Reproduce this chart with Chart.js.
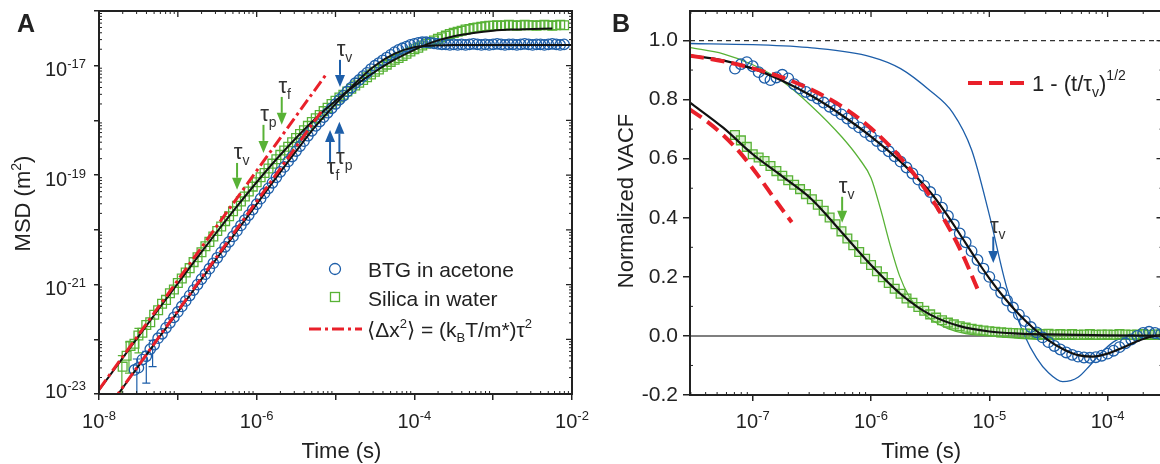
<!DOCTYPE html>
<html>
<head>
<meta charset="utf-8">
<script src="https://cdn.jsdelivr.net/npm/chart.js"></script>
<style>
  html, body { margin: 0; padding: 0; background: #fff; overflow: hidden; width: 1160px; height: 464px; }
  canvas { position: absolute; top: 0; }
</style>
</head>
<body>
<canvas id="msdChart" width="590" height="464" style="left:0"></canvas>
<canvas id="vacfChart" width="580" height="464" style="left:590px"></canvas>
<script>
const FONT = "'Liberation Sans', Arial, 'DejaVu Sans', sans-serif";
const BLUE = '#1d5ea9';
const GREEN = '#58b236';
const RED = '#e9202a';
const INK = '#222';

// ---------- Panel A: MSD (all values are log10: time in s, MSD in m^2) ----------
const timeDecadesA = [-8, -7, -6, -5, -4, -3, -2];
const timeLabelsA = [-8, -6, -4, -2];
const msdDecades = [-23, -22, -21, -20, -19, -18, -17, -16];
const msdLabels = [-23, -21, -19, -17];

const logTimeA = [
  -7.70, -7.65, -7.60, -7.55, -7.50, -7.45, -7.40, -7.35, -7.30, -7.25,
  -7.20, -7.15, -7.10, -7.05, -7.00, -6.95, -6.90, -6.85, -6.80, -6.75,
  -6.70, -6.65, -6.60, -6.55, -6.50, -6.45, -6.40, -6.35, -6.30, -6.25,
  -6.20, -6.15, -6.10, -6.05, -6.00, -5.95, -5.90, -5.85, -5.80, -5.75,
  -5.70, -5.65, -5.60, -5.55, -5.50, -5.45, -5.40, -5.35, -5.30, -5.25,
  -5.20, -5.15, -5.10, -5.05, -5.00, -4.95, -4.90, -4.85, -4.80, -4.75,
  -4.70, -4.65, -4.60, -4.55, -4.50, -4.45, -4.40, -4.35, -4.30, -4.25,
  -4.20, -4.15, -4.10, -4.05, -4.00, -3.95, -3.90, -3.85, -3.80, -3.75,
  -3.70, -3.65, -3.60, -3.55, -3.50, -3.45, -3.40, -3.35, -3.30, -3.25,
  -3.20, -3.15, -3.10, -3.05, -3.00, -2.95, -2.90, -2.85, -2.80, -2.75,
  -2.70, -2.65, -2.60, -2.55, -2.50, -2.45, -2.40, -2.35, -2.30, -2.25,
  -2.20, -2.15, -2.10
];
const btgLogMsd = [
  null, null, null, -22.56, -22.52, -22.37, -22.31, -22.18, -22.10, -21.98,
  -21.90, -21.79, -21.70, -21.60, -21.50, -21.40, -21.30, -21.20, -21.10, -21.00,
  -20.90, -20.81, -20.71, -20.61, -20.51, -20.41, -20.31, -20.22, -20.12, -20.02,
  -19.92, -19.82, -19.73, -19.63, -19.53, -19.43, -19.33, -19.24, -19.14, -19.04,
  -18.94, -18.85, -18.75, -18.66, -18.56, -18.47, -18.38, -18.28, -18.19, -18.10,
  -18.02, -17.94, -17.86, -17.78, -17.70, -17.62, -17.55, -17.47, -17.40, -17.32,
  -17.26, -17.19, -17.13, -17.06, -17.00, -16.95, -16.90, -16.85, -16.80, -16.75,
  -16.71, -16.68, -16.65, -16.62, -16.60, -16.58, -16.57, -16.57, -16.58, -16.59,
  -16.60, -16.61, -16.61, -16.62, -16.61, -16.62, -16.61, -16.62, -16.61, -16.60,
  -16.61, -16.62, -16.61, -16.62, -16.61, -16.60, -16.61, -16.62, -16.61, -16.61,
  -16.62, -16.61, -16.60, -16.61, -16.62, -16.61, -16.61, -16.62, -16.61, -16.60,
  -16.61, -16.62, -16.61
];
const silicaLogMsd = [
  -22.50, -22.30, -22.12, -22.08, -21.93, -21.88, -21.74, -21.69, -21.55, -21.47,
  -21.35, -21.28, -21.16, -21.09, -20.97, -20.89, -20.78, -20.70, -20.59, -20.50,
  -20.41, -20.30, -20.22, -20.12, -20.02, -19.94, -19.84, -19.75, -19.66, -19.56,
  -19.48, -19.39, -19.30, -19.21, -19.13, -19.04, -18.96, -18.88, -18.79, -18.71,
  -18.63, -18.55, -18.48, -18.40, -18.32, -18.25, -18.18, -18.10, -18.03, -17.96,
  -17.90, -17.83, -17.77, -17.70, -17.64, -17.58, -17.53, -17.47, -17.42, -17.36,
  -17.31, -17.26, -17.21, -17.16, -17.11, -17.07, -17.02, -16.98, -16.93, -16.89,
  -16.86, -16.82, -16.78, -16.74, -16.70, -16.67, -16.63, -16.60, -16.57, -16.54,
  -16.51, -16.48, -16.45, -16.42, -16.40, -16.38, -16.36, -16.34, -16.33, -16.31,
  -16.30, -16.29, -16.28, -16.27, -16.27, -16.26, -16.27, -16.26, -16.25, -16.26,
  -16.27, -16.26, -16.25, -16.26, -16.26, -16.27, -16.26, -16.25, -16.26, -16.27,
  -16.26, -16.25, -16.26
];

const fitLogTimeA = [-8.00, -7.75, -7.50, -7.25, -7.00, -6.75, -6.50, -6.25, -6.00, -5.75, -5.50, -5.25,
  -5.00, -4.75, -4.50, -4.25, -4.00, -3.75, -3.50, -3.25, -3.00, -2.75, -2.50, -2.25, -2.00];
const btgFitLogMsd = [-23.49, -22.99, -22.49, -21.99, -21.50, -21.00, -20.51, -20.02, -19.53, -19.04, -18.56, -18.10,
  -17.70, -17.32, -17.00, -16.78, -16.66, -16.63, -16.62, -16.62, -16.62, -16.62, -16.62, -16.62, -16.62];
const silicaFitLogMsd = [-22.93, -22.44, -21.95, -21.46, -20.98, -20.50, -20.03, -19.57, -19.13, -18.71, -18.32, -17.96,
  -17.64, -17.36, -17.11, -16.89, -16.71, -16.56, -16.46, -16.40, -16.36, -16.34, -16.33, -16.32, null];

// ballistic <dx^2> = (kT/m*) t^2 lines
const ballisticLogTimeBtg = [-8.00, -5.17];
const ballisticLogMsdBtg = [-23.48, -17.82];
const ballisticLogTimeSilica = [-8.00, -5.10];
const ballisticLogMsdSilica = [-22.92, -17.12];

// short-time error bars
const btgErrLogTime = [-7.52, -7.40, -7.32];
const btgErrLow = [-23.40, -22.80, -22.50];
const btgErrHigh = [-22.36, -22.22, -22.02];
const silicaErrLogTime = [-7.71, -7.62, -7.50];
const silicaErrLow = [-23.40, -22.62, -22.25];
const silicaErrHigh = [-22.30, -22.05, -21.80];

// characteristic times marked with arrows (time, arrow tail, arrow tip)
const tauTimesA = [5.64e-7, 1.22e-6, 2.08e-6, 1.14e-5, 8.53e-6, 1.12e-5];
const tauFromA = [1.67e-19, 8.3e-19, 2.69e-18, 1.28e-17, 1.67e-19, 2.5e-19];
const tauToA = [5.4e-20, 2.55e-19, 8.3e-19, 4.1e-18, 6.7e-19, 9.5e-19];
const tauSubA = ['v', 'p', 'f', 'v', 'f', 'p'];
const tauSampleA = ['silica', 'silica', 'silica', 'btg', 'btg', 'btg'];

// ---------- Panel B: normalized VACF (time as log10 s) ----------
const timeRangeB = [2.95e-8, 2.91e-4];
const timeDecadesB = [-7, -6, -5, -4];
const vacfTicks = [-0.2, 0.0, 0.2, 0.4, 0.6, 0.8, 1.0];

const logTimeB = [
  -7.15, -7.10, -7.05, -7.00, -6.95, -6.90, -6.85, -6.80, -6.75, -6.70,
  -6.65, -6.60, -6.55, -6.50, -6.45, -6.40, -6.35, -6.30, -6.25, -6.20,
  -6.15, -6.10, -6.05, -6.00, -5.95, -5.90, -5.85, -5.80, -5.75, -5.70,
  -5.65, -5.60, -5.55, -5.50, -5.45, -5.40, -5.35, -5.30, -5.25, -5.20,
  -5.15, -5.10, -5.05, -5.00, -4.95, -4.90, -4.85, -4.80, -4.75, -4.70,
  -4.65, -4.60, -4.55, -4.50, -4.45, -4.40, -4.35, -4.30, -4.25, -4.20,
  -4.15, -4.10, -4.05, -4.00, -3.95, -3.90, -3.85, -3.80, -3.75, -3.70,
  -3.65, -3.60, -3.55
];
const btgVacf = [
  0.905, 0.920, 0.927, 0.913, 0.893, 0.874, 0.866, 0.875, 0.884, 0.872,
  0.852, 0.838, 0.826, 0.815, 0.804, 0.790, 0.776, 0.764, 0.750, 0.736,
  0.720, 0.706, 0.690, 0.676, 0.660, 0.642, 0.625, 0.608, 0.590, 0.570,
  0.550, 0.529, 0.508, 0.487, 0.461, 0.434, 0.406, 0.377, 0.347, 0.317,
  0.287, 0.257, 0.228, 0.200, 0.172, 0.146, 0.120, 0.096, 0.072, 0.050,
  0.030, 0.012, -0.005, -0.021, -0.034, -0.046, -0.056, -0.064, -0.070, -0.073,
  -0.074, -0.072, -0.067, -0.060, -0.050, -0.038, -0.025, -0.012, 0.000, 0.010,
  0.014, 0.010, 0.006
];
const silicaVacf = [
  0.680, 0.662, 0.640, 0.615, 0.604, 0.592, 0.575, 0.558, 0.542, 0.527,
  0.512, 0.497, 0.480, 0.463, 0.444, 0.424, 0.401, 0.378, 0.354, 0.330,
  0.307, 0.284, 0.261, 0.240, 0.219, 0.199, 0.179, 0.160, 0.143, 0.127,
  0.112, 0.098, 0.085, 0.073, 0.062, 0.053, 0.045, 0.039, 0.033, 0.028,
  0.024, 0.021, 0.018, 0.016, 0.014, 0.012, 0.011, 0.010, 0.009, 0.008,
  0.007, 0.008, 0.006, 0.007, 0.005, 0.006, 0.005, 0.006, 0.004, 0.005,
  0.006, 0.004, 0.005, 0.005, 0.004, 0.006, 0.005, 0.004, 0.005, 0.006,
  0.004, 0.005, 0.005
];

const btgFitLogTimeB = [-7.53, -7.25, -7.00, -6.75, -6.50, -6.25, -6.00, -5.75, -5.50, -5.375, -5.25, -5.125,
  -5.00, -4.875, -4.75, -4.625, -4.50, -4.375, -4.25, -4.125, -4.00, -3.875, -3.75, -3.625, -3.50];
const btgVacfFit = [0.950, 0.933, 0.905, 0.864, 0.812, 0.748, 0.675, 0.590, 0.487, 0.420, 0.345, 0.268,
  0.195, 0.130, 0.073, 0.025, -0.015, -0.045, -0.065, -0.070, -0.060, -0.040, -0.018, -0.002, 0.004];
const silicaFitLogTimeB = [-7.53, -7.25, -7.00, -6.75, -6.50, -6.25, -6.00, -5.75, -5.50, -5.25, -5.00, -4.75, -4.50, -4.00, -3.50];
const silicaVacfFit = [0.790, 0.705, 0.615, 0.540, 0.462, 0.352, 0.240, 0.142, 0.072, 0.033, 0.015, 0.008, 0.005, 0.002, 0.001];

// thin model curves
const btgThinLogTime = [-7.53, -7.00, -6.50, -6.00, -5.75, -5.50, -5.31, -5.15, -5.00, -4.85, -4.70, -4.60, -4.50, -4.38, -4.25, -4.15, -4.05, -3.95, -3.85, -3.54];
const btgThinVacf = [0.990, 0.986, 0.975, 0.945, 0.905, 0.830, 0.756, 0.630, 0.410, 0.160, 0.000, -0.075, -0.125, -0.155, -0.140, -0.100, -0.055, -0.020, -0.003, 0.000];
const silicaThinLogTime = [-7.53, -7.25, -7.00, -6.75, -6.50, -6.25, -6.10, -6.00, -5.92, -5.84, -5.76, -5.68, -5.58, -5.48, -5.35, -5.20, -5.00, -4.75, -4.50, -3.54];
const silicaThinVacf = [0.976, 0.955, 0.918, 0.862, 0.777, 0.675, 0.600, 0.535, 0.430, 0.310, 0.205, 0.135, 0.085, 0.052, 0.025, 0.008, 0.000, -0.008, -0.012, -0.012];

// 1 - (t/tau_v)^1/2 short-time curves
const btgSqrtLogTime = [-7.53, -7.25, -7.00, -6.75, -6.50, -6.25, -6.00, -5.75, -5.50, -5.25, -5.09];
const btgSqrtVacf = [0.949, 0.930, 0.906, 0.875, 0.833, 0.778, 0.703, 0.603, 0.472, 0.296, 0.150];
const silicaSqrtLogTime = [-7.53, -7.40, -7.25, -7.10, -6.95, -6.80, -6.67];
const silicaSqrtVacf = [0.766, 0.730, 0.680, 0.617, 0.540, 0.455, 0.385];

const tauTimesB = [5.7e-7, 1.08e-5];
const tauFromB = [0.471, 0.336];
const tauToB = [0.383, 0.247];
const tauSampleB = ['silica', 'btg'];

const sampleColor = { btg: BLUE, silica: GREEN };

// ---------- helpers ----------
const logPts = (lt, lv) => lt.map((t, i) => lv[i] === null ? null : { x: 10 ** t, y: 10 ** lv[i] }).filter(p => p);
const linPts = (lt, v) => lt.map((t, i) => ({ x: 10 ** t, y: v[i] }));

function richText(ctx, parts, x, y, align) {
  let total = 0;
  parts.forEach(p => {
    ctx.font = (p.bold ? 'bold ' : '') + p.size + 'px ' + FONT;
    p.w = ctx.measureText(p.t).width;
    total += p.w;
  });
  let cx = align === 'center' ? x - total / 2 : align === 'right' ? x - total : x;
  ctx.textAlign = 'left';
  ctx.textBaseline = 'alphabetic';
  parts.forEach(p => {
    ctx.font = (p.bold ? 'bold ' : '') + p.size + 'px ' + FONT;
    ctx.fillText(p.t, cx, y + (p.dy || 0));
    cx += p.w;
  });
}
const pow10 = e => [{ t: '10', size: 20 }, { t: String(e), size: 13, dy: -8 }];

function logMinor(scale) {
  const out = [];
  const lo = Math.floor(Math.log10(scale.min)), hi = Math.ceil(Math.log10(scale.max));
  for (let e = lo; e < hi; e++) {
    for (let m = 2; m <= 9; m++) {
      const v = m * 10 ** e;
      if (v > scale.min && v < scale.max) out.push(scale.getPixelForValue(v));
    }
  }
  return out;
}

function drawFrame(chart, yMinor) {
  const { ctx, chartArea: a, scales: { x, y } } = chart;
  ctx.save();
  ctx.strokeStyle = INK;
  ctx.lineWidth = 2;
  ctx.strokeRect(a.left, a.top, a.right - a.left, a.bottom - a.top);
  ctx.lineWidth = 1.3;
  ctx.beginPath();
  x.ticks.forEach(t => {
    const px = x.getPixelForValue(t.value);
    ctx.moveTo(px, a.top); ctx.lineTo(px, a.top + 6);
  });
  y.ticks.forEach(t => {
    const py = y.getPixelForValue(t.value);
    ctx.moveTo(a.right, py); ctx.lineTo(a.right - 6, py);
  });
  ctx.stroke();
  ctx.lineWidth = 1;
  ctx.beginPath();
  logMinor(x).forEach(px => {
    ctx.moveTo(px, a.top); ctx.lineTo(px, a.top + 3);
    ctx.moveTo(px, a.bottom); ctx.lineTo(px, a.bottom - 3);
  });
  yMinor.forEach(py => {
    ctx.moveTo(a.left, py); ctx.lineTo(a.left + 3, py);
    ctx.moveTo(a.right, py); ctx.lineTo(a.right - 3, py);
  });
  ctx.stroke();
  ctx.restore();
}

function drawTau(ctx, px, y0, y1, sub, color) {
  const dir = y1 > y0 ? 1 : -1;
  const head = 12, hw = 5;
  ctx.save();
  ctx.strokeStyle = color;
  ctx.fillStyle = color;
  ctx.lineWidth = 2;
  ctx.beginPath();
  ctx.moveTo(px, y0);
  ctx.lineTo(px, y1 - dir * head);
  ctx.stroke();
  ctx.beginPath();
  ctx.moveTo(px - hw, y1 - dir * head);
  ctx.lineTo(px + hw, y1 - dir * head);
  ctx.lineTo(px, y1);
  ctx.closePath();
  ctx.fill();
  ctx.fillStyle = '#333';
  ctx.font = '22px ' + FONT;
  const tw = ctx.measureText('τ').width;
  const base = dir > 0 ? y0 - 4 : y0 + 11;
  richText(ctx, [{ t: 'τ', size: 22 }, { t: sub, size: 14, dy: 6 }], px + 1 - tw / 2, base, 'left');
  ctx.restore();
}

Chart.defaults.font.family = FONT;
Chart.defaults.color = INK;
Chart.defaults.animation = false;

const lineDs = (label, data, color, width, extra) => Object.assign({
  label, data, showLine: true, pointRadius: 0, borderColor: color, borderWidth: width,
  backgroundColor: 'rgba(0,0,0,0)', cubicInterpolationMode: 'monotone'
}, extra || {});
const markerDs = (label, data, color, style, r, order, fill) => ({
  label, data, showLine: false, pointStyle: style, pointRadius: r, pointBorderWidth: 1.3,
  pointBorderColor: color, pointBackgroundColor: fill || 'rgba(0,0,0,0)', order
});

// ---------- Panel A chart ----------
const msdDecor = {
  id: 'msdDecor',
  beforeDatasetsDraw(chart) {
    const { ctx, chartArea: a, scales: { x, y } } = chart;
    ctx.save();
    ctx.beginPath();
    ctx.rect(a.left, a.top, a.right - a.left, a.bottom - a.top);
    ctx.clip();
    ctx.lineWidth = 1.2;
    [[btgErrLogTime, btgErrLow, btgErrHigh, BLUE], [silicaErrLogTime, silicaErrLow, silicaErrHigh, GREEN]].forEach(([lt, lo, hi, c]) => {
      ctx.strokeStyle = c;
      ctx.beginPath();
      lt.forEach((t, i) => {
        const px = x.getPixelForValue(10 ** t);
        const y0 = y.getPixelForValue(10 ** lo[i]), y1 = y.getPixelForValue(10 ** hi[i]);
        ctx.moveTo(px, y0); ctx.lineTo(px, y1);
        ctx.moveTo(px - 4, y0); ctx.lineTo(px + 4, y0);
        ctx.moveTo(px - 4, y1); ctx.lineTo(px + 4, y1);
      });
      ctx.stroke();
    });
    ctx.restore();
  },
  afterDraw(chart) {
    const { ctx, chartArea: a, scales: { x, y } } = chart;
    drawFrame(chart, logMinor(y));
    ctx.save();
    ctx.fillStyle = INK;
    timeLabelsA.forEach(e => richText(ctx, pow10(e), x.getPixelForValue(10 ** e), a.bottom + 34, 'center'));
    msdLabels.forEach((e, i) => richText(ctx, pow10(e), a.left - 13, y.getPixelForValue(10 ** e) + (i === 0 ? 3.5 : 10.5), 'right'));
    richText(ctx, [{ t: 'Time (s)', size: 22 }], (a.left + a.right) / 2 + 6, 458, 'center');
    richText(ctx, [{ t: 'A', size: 25, bold: true }], 17, 32, 'left');
    ctx.save();
    ctx.translate(30, (a.top + a.bottom) / 2 + 1);
    ctx.rotate(-Math.PI / 2);
    richText(ctx, [{ t: 'MSD (m', size: 22 }, { t: '2', size: 14, dy: -9 }, { t: ')', size: 22 }], 0, 0, 'center');
    ctx.restore();

    // legend
    ctx.lineWidth = 1.3;
    ctx.strokeStyle = BLUE;
    ctx.beginPath(); ctx.arc(335, 269, 5.5, 0, Math.PI * 2); ctx.stroke();
    ctx.strokeStyle = GREEN;
    ctx.strokeRect(330.5, 292.5, 9, 9);
    ctx.strokeStyle = RED;
    ctx.lineWidth = 3;
    ctx.setLineDash([12, 4, 3, 4]);
    ctx.beginPath(); ctx.moveTo(309, 329); ctx.lineTo(362, 329); ctx.stroke();
    ctx.setLineDash([]);
    ctx.fillStyle = INK;
    richText(ctx, [{ t: 'BTG in acetone', size: 21 }], 368, 277, 'left');
    richText(ctx, [{ t: 'Silica in water', size: 21 }], 368, 306, 'left');
    richText(ctx, [
      { t: '⟨Δx', size: 21 }, { t: '2', size: 13, dy: -9 }, { t: '⟩ = (k', size: 21 },
      { t: 'B', size: 13, dy: 5 }, { t: 'T/m*)τ', size: 21 }, { t: '2', size: 13, dy: -9 }
    ], 367, 337, 'left');

    tauTimesA.forEach((t, i) => drawTau(ctx, x.getPixelForValue(t), y.getPixelForValue(tauFromA[i]),
      y.getPixelForValue(tauToA[i]), tauSubA[i], sampleColor[tauSampleA[i]]));
    ctx.restore();
  }
};

new Chart(document.getElementById('msdChart'), {
  type: 'scatter',
  data: {
    datasets: [
      lineDs('ballistic BTG', logPts(ballisticLogTimeBtg, ballisticLogMsdBtg), RED, 3, { borderDash: [12, 4, 3, 4], order: 0, cubicInterpolationMode: 'default' }),
      lineDs('ballistic silica', logPts(ballisticLogTimeSilica, ballisticLogMsdSilica), RED, 3, { borderDash: [12, 4, 3, 4], order: 0, cubicInterpolationMode: 'default' }),
      lineDs('BTG fit', logPts(fitLogTimeA, btgFitLogMsd), '#111', 2, { order: 1 }),
      lineDs('Silica fit', logPts(fitLogTimeA, silicaFitLogMsd), '#111', 2, { order: 1 }),
      markerDs('BTG in acetone', logPts(logTimeA, btgLogMsd), BLUE, 'circle', 5.2, 2),
      markerDs('Silica in water', logPts(logTimeA, silicaLogMsd), GREEN, 'rect', 6.2, 3)
    ]
  },
  options: {
    responsive: false,
    events: [],
    layout: { padding: { left: 0, right: 18, top: 11, bottom: 0 } },
    plugins: { legend: { display: false }, tooltip: { enabled: false } },
    scales: {
      x: {
        type: 'logarithmic', min: 1e-8, max: 1e-2,
        afterBuildTicks: s => { s.ticks = timeDecadesA.map(e => ({ value: 10 ** e })); },
        afterFit: s => { s.height = 70; s.paddingLeft = 0; s.paddingRight = 0; },
        ticks: { display: false },
        grid: { drawOnChartArea: false, tickLength: 6, color: INK, lineWidth: 1.5 },
        border: { display: false }
      },
      y: {
        type: 'logarithmic', min: 1e-23, max: 1e-16,
        afterBuildTicks: s => { s.ticks = msdDecades.map(e => ({ value: 10 ** e })); },
        afterFit: s => { s.width = 99; s.paddingTop = 0; s.paddingBottom = 0; },
        ticks: { display: false },
        grid: { drawOnChartArea: false, tickLength: 5, color: INK, lineWidth: 1.5 },
        border: { display: false }
      }
    }
  },
  plugins: [msdDecor]
});

// ---------- Panel B chart ----------
const vacfDecor = {
  id: 'vacfDecor',
  afterDraw(chart) {
    const { ctx, chartArea: a, scales: { x, y } } = chart;
    const minor = [];
    for (let i = 0; i < vacfTicks.length - 1; i++) minor.push(y.getPixelForValue((vacfTicks[i] + vacfTicks[i + 1]) / 2));
    drawFrame(chart, minor);
    ctx.save();
    ctx.fillStyle = INK;
    timeDecadesB.forEach(e => richText(ctx, pow10(e), x.getPixelForValue(10 ** e), a.bottom + 33, 'center'));
    richText(ctx, [{ t: 'Time (s)', size: 22 }], (a.left + a.right) / 2 - 5, 458, 'center');
    richText(ctx, [{ t: 'B', size: 25, bold: true }], 22, 32, 'left');
    ctx.save();
    ctx.translate(43, (a.top + a.bottom) / 2 - 2);
    ctx.rotate(-Math.PI / 2);
    richText(ctx, [{ t: 'Normalized VACF', size: 22 }], 0, 0, 'center');
    ctx.restore();

    // legend
    ctx.strokeStyle = RED;
    ctx.lineWidth = 4;
    ctx.setLineDash([14, 7]);
    ctx.beginPath(); ctx.moveTo(378, 83); ctx.lineTo(437, 83); ctx.stroke();
    ctx.setLineDash([]);
    ctx.fillStyle = INK;
    richText(ctx, [
      { t: '1 - (t/τ', size: 22 }, { t: 'v', size: 14, dy: 6 }, { t: ')', size: 22 }, { t: '1/2', size: 14, dy: -11 }
    ], 442, 91, 'left');

    tauTimesB.forEach((t, i) => drawTau(ctx, x.getPixelForValue(t), y.getPixelForValue(tauFromB[i]),
      y.getPixelForValue(tauToB[i]), 'v', sampleColor[tauSampleB[i]]));
    ctx.restore();
  }
};

new Chart(document.getElementById('vacfChart'), {
  type: 'scatter',
  data: {
    datasets: [
      lineDs('1 - sqrt BTG', linPts(btgSqrtLogTime, btgSqrtVacf), RED, 4, { borderDash: [14, 7], order: 0 }),
      lineDs('1 - sqrt silica', linPts(silicaSqrtLogTime, silicaSqrtVacf), RED, 4, { borderDash: [14, 7], order: 0 }),
      lineDs('BTG fit', linPts(btgFitLogTimeB, btgVacfFit), '#111', 2.2, { order: 1 }),
      lineDs('Silica fit', linPts(silicaFitLogTimeB, silicaVacfFit), '#111', 2.2, { order: 1 }),
      markerDs('BTG in acetone', linPts(logTimeB, btgVacf), BLUE, 'circle', 5.3, 2),
      markerDs('Silica in water', linPts(logTimeB, silicaVacf), GREEN, 'rect', 6.2, 3, 'rgba(140,205,110,0.25)'),
      lineDs('BTG model', linPts(btgThinLogTime, btgThinVacf), BLUE, 1.3, { order: 4 }),
      lineDs('Silica model', linPts(silicaThinLogTime, silicaThinVacf), GREEN, 1.3, { order: 4 }),
      lineDs('unity', [{ x: timeRangeB[0], y: 1 }, { x: timeRangeB[1], y: 1 }], '#333', 1.2, { borderDash: [5, 4], order: 5 }),
      lineDs('zero', [{ x: timeRangeB[0], y: 0 }, { x: timeRangeB[1], y: 0 }], '#555', 1.5, { order: 5 })
    ]
  },
  options: {
    responsive: false,
    events: [],
    layout: { padding: { left: 0, right: 7, top: 11, bottom: 0 } },
    plugins: { legend: { display: false }, tooltip: { enabled: false } },
    scales: {
      x: {
        type: 'logarithmic', min: timeRangeB[0], max: timeRangeB[1],
        afterBuildTicks: s => { s.ticks = timeDecadesB.map(e => ({ value: 10 ** e })); },
        afterFit: s => { s.height = 69; s.paddingLeft = 0; s.paddingRight = 0; },
        ticks: { display: false },
        grid: { drawOnChartArea: false, tickLength: 6, color: INK, lineWidth: 1.5 },
        border: { display: false }
      },
      y: {
        type: 'linear', min: -0.2, max: 1.1,
        afterBuildTicks: s => { s.ticks = vacfTicks.map(v => ({ value: v })); },
        afterFit: s => { s.width = 100; s.paddingTop = 0; s.paddingBottom = 0; },
        ticks: { font: { size: 21 }, color: INK, padding: 5, callback: v => Number(v).toFixed(1) },
        grid: { drawOnChartArea: false, tickLength: 7, color: INK, lineWidth: 1.5 },
        border: { display: false }
      }
    }
  },
  plugins: [vacfDecor]
});
</script>
</body>
</html>
